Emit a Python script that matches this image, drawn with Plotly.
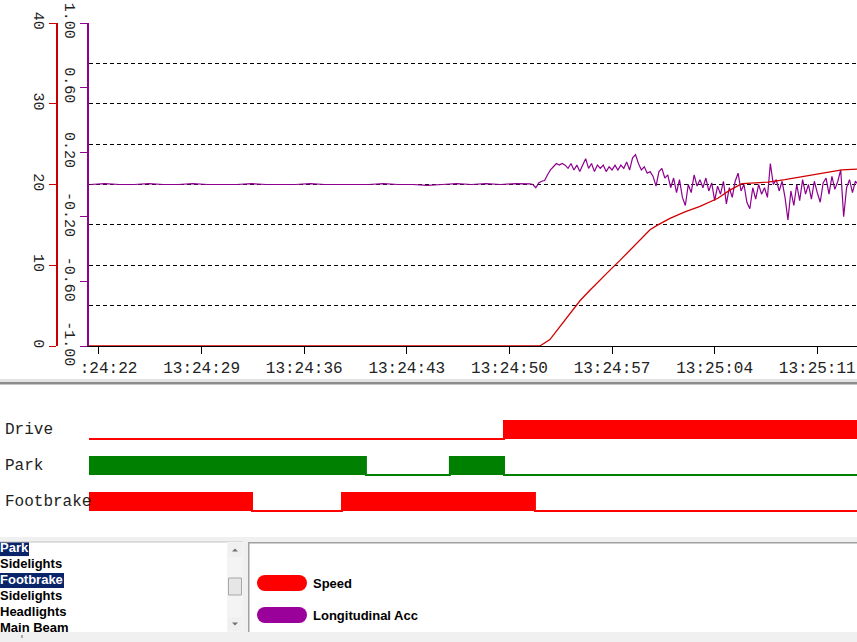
import numpy as np
import plotly.graph_objects as go

# ------------------------------------------------------------------ data
tick_seconds = [0, 7, 14, 21, 28, 35, 42, 49]          # seconds after 13:24:22
tick_labels = ["13:24:22", "13:24:29", "13:24:36", "13:24:43",
               "13:24:50", "13:24:57", "13:25:04", "13:25:11"]
time_window = [-0.68, 51.71]

speed_ticks = [0, 10, 20, 30, 40]
acc_ticks = [-1.0, -0.6, -0.2, 0.2, 0.6, 1.0]
acc_tick_labels = ["-1.00", "-0.60", "-0.20", "0.20", "0.60", "1.00"]

speed_t = [-0.68, 30.08, 30.76, 31.45, 32.13, 32.81, 33.49, 34.17, 34.86, 35.54,
           36.22, 36.90, 37.59, 38.13, 38.95, 39.97, 41.00, 42.22, 43.04, 43.86,
           44.75, 45.63, 46.79, 47.82, 49.05, 50.68, 51.71]
speed_v = [0, 0, 0.8, 2.4, 4.0, 5.6, 6.9, 8.2, 9.4, 10.6,
           11.9, 13.2, 14.4, 15.0, 15.8, 16.6, 17.3, 18.3, 19.3, 20.1,
           20.2, 20.3, 20.6, 20.9, 21.3, 21.8, 21.9]

# longitudinal acceleration, idle part logged every 1 s from t = -0.6
acc_idle_start, acc_idle_step = -0.6, 1.0
acc_idle = [0, 0.006, 0, 0, 0.005, 0, 0, 0.006, 0, 0,
            0, 0.005, 0, 0, 0, 0.006, 0, 0, 0, 0,
            0.005, 0, 0, -0.005, 0, 0.006, 0, 0.005, 0, 0.006, 0.004]
# driving part logged every 0.2 s from t = 29.6
acc_drive_start, acc_drive_step = 29.6, 0.2
acc_drive = [0.0, -0.02, 0.01, 0.02, 0.025, 0.06, 0.09, 0.11, 0.13, 0.12,
             0.13, 0.12, 0.10, 0.13, 0.09, 0.12, 0.08, 0.12, 0.16, 0.10,
             0.13, 0.08, 0.12, 0.10, 0.12, 0.08, 0.11, 0.09, 0.12, 0.09,
             0.12, 0.10, 0.14, 0.09, 0.165, 0.185, 0.13, 0.09, 0.11, 0.07,
             0.08, 0.05, -0.01, 0.08, 0.10, 0.04, 0.06, -0.02, 0.04, -0.05,
             0.03, -0.08, -0.13, 0.0, -0.05, 0.06, -0.01, 0.03, -0.02, 0.04,
             -0.04, 0.01, -0.10, -0.01, -0.06, 0.02, -0.12, -0.02, -0.08, 0.02,
             0.07, -0.04, 0.0, -0.11, -0.15, -0.02, -0.09, 0.0, -0.06, -0.02,
             -0.08, 0.13, 0.0, 0.03, -0.04, 0.02, -0.08, -0.22, -0.04, -0.13,
             0.0, -0.10, 0.03, -0.06, 0.0, -0.09, 0.02, -0.05, -0.11, 0.01,
             0.04, -0.06, 0.05, -0.03, 0.02, 0.09, -0.20, -0.02, 0.03, -0.05,
             0.02, 0.0]

signal_names = ["Drive", "Park", "Footbrake"]
drive_t = [-0.68, 27.63, 51.71]
drive_s = [0, 1, 1]
park_t = [-0.68, 18.21, 23.94, 27.63, 51.71]
park_s = [1, 0, 1, 0, 0]
foot_t = [-0.68, 10.44, 16.58, 29.74, 51.71]
foot_s = [1, 0, 1, 0, 0]

list_items = ["Park", "Sidelights", "Footbrake", "Sidelights", "Headlights", "Main Beam"]
list_selected = [True, False, True, False, False, False]

series_names = ["Speed", "Longitudinal Acc"]

# ------------------------------------------------------------------ helpers
W, H = 857, 642
def px(x):
    return x / W
def py(y):
    return 1 - y / H

RED_AX = "#C80000"
PURPLE = "#8E008E"
MONO = "Liberation Mono, Courier New, monospace"
SANS = "Liberation Sans, Arial, sans-serif"

acc_t = [acc_idle_start + i * acc_idle_step for i in range(len(acc_idle))] + \
        [acc_drive_start + i * acc_drive_step for i in range(len(acc_drive))]
acc_v = acc_idle + acc_drive

fig = go.Figure()

# ------------------------------------------------------------------ analog traces
fig.add_trace(go.Scatter(x=acc_t, y=acc_v, xaxis="x", yaxis="y", mode="lines",
                         line=dict(color=PURPLE, width=1.2), name=series_names[1],
                         showlegend=False, hoverinfo="skip"))
fig.add_trace(go.Scatter(x=speed_t, y=speed_v, xaxis="x", yaxis="y2", mode="lines",
                         line=dict(color="#D00000", width=1.3), name=series_names[0],
                         showlegend=False, hoverinfo="skip"))

# ------------------------------------------------------------------ digital traces
digital = [(drive_t, drive_s, "#FF0000"), (park_t, park_s, "#008000"), (foot_t, foot_s, "#FF0000")]
for k, (tt, ss, col) in enumerate(digital):
    base = -k
    fig.add_trace(go.Scatter(x=[tt[0], tt[-1]], y=[base, base], xaxis="x2", yaxis="y3",
                             mode="lines", line=dict(width=0, color=col),
                             showlegend=False, hoverinfo="skip"))
    fig.add_trace(go.Scatter(x=tt, y=[base + 0.5 * s for s in ss], xaxis="x2", yaxis="y3",
                             mode="lines", line=dict(shape="hv", color=col, width=2),
                             fill="tonexty", fillcolor=col, name=signal_names[k],
                             showlegend=False, hoverinfo="skip"))

# ------------------------------------------------------------------ list box text
fig.add_trace(go.Scatter(x=[0] * len(list_items), y=list(range(len(list_items))),
                         xaxis="x3", yaxis="y4", mode="text", text=list_items,
                         textposition="middle right", cliponaxis=True,
                         textfont=dict(family=SANS, size=13, weight="bold",
                                       color=["white" if s else "black" for s in list_selected]),
                         showlegend=False, hoverinfo="skip"))

disp_ticks = ["\u00a0\u00a0" + tick_labels[0][2:]] + tick_labels[1:]

fig.update_layout(
    template="none",
    width=W, height=H, autosize=False,
    margin=dict(l=0, r=0, t=0, b=0, pad=0, autoexpand=False),
    paper_bgcolor="white", plot_bgcolor="white",
    showlegend=False,
    xaxis=dict(domain=[px(89), 1], range=time_window, anchor="y", automargin=False,
               tickmode="array", tickvals=tick_seconds, ticktext=disp_ticks,
               ticks="outside", ticklen=7, tickcolor="black", tickwidth=1,
               showline=True, linecolor="black", linewidth=1,
               showgrid=False, zeroline=False,
               tickfont=dict(family=MONO, size=16, color="#222")),
    yaxis=dict(domain=[py(346), py(23)], range=[-1, 1], anchor="x", automargin=False,
               tickmode="array", tickvals=acc_ticks, ticktext=acc_tick_labels,
               tickangle=90, ticks="outside", ticklen=7, tickcolor=PURPLE,
               ticklabelstandoff=-3,
               showline=True, linecolor=PURPLE, linewidth=1.5,
               showgrid=False, zeroline=False,
               tickfont=dict(family=MONO, size=15, color="#222")),
    yaxis2=dict(overlaying="y", anchor="free", position=px(57), side="left",
                automargin=False,
                range=[0, 40], tickmode="array", tickvals=speed_ticks,
                tickangle=90, ticks="outside", ticklen=7, tickcolor=RED_AX,
                ticklabelstandoff=-3,
                showline=True, linecolor=RED_AX, linewidth=1.5,
                showgrid=True, gridcolor="black", griddash="4px,3px", gridwidth=1,
                minor=dict(dtick=5, tick0=0, showgrid=True, gridcolor="black",
                           griddash="4px,3px", gridwidth=1, ticks=""),
                zeroline=False,
                tickfont=dict(family=MONO, size=15, color="#222")),
    xaxis2=dict(domain=[px(89), 1], range=time_window, anchor="y3", matches="x",
                visible=False, automargin=False),
    yaxis3=dict(domain=[py(537), py(384)], range=[-2.72, 1.53], anchor="x2",
                visible=False, automargin=False),
    xaxis3=dict(domain=[0, px(227)], range=[0, 1], anchor="y4", visible=False,
                automargin=False),
    yaxis4=dict(domain=[py(632), py(542)], range=[5.22, -0.41], anchor="x3",
                visible=False, automargin=False),
)

# ------------------------------------------------------------------ window chrome
shapes = []
def rect(x0, y0, x1, y1, fill, line=None, layer="above"):
    shapes.append(dict(type="rect", xref="paper", yref="paper",
                       x0=px(x0), x1=px(x1), y0=py(y1), y1=py(y0),
                       fillcolor=fill, line=dict(width=1 if line else 0, color=line or fill),
                       layer=layer))

# splitter between analog and digital panes
rect(0, 379, W, 382, "#e2e2e2")
rect(0, 382, W, 384.5, "#8c8c8c")
# band under digital pane
rect(0, 537, W, 542, "#f0f0f0")
# gap between list and legend panel
rect(243, 537, 248, 642, "#f0f0f0")
# list box top border
rect(0, 541.5, 243, 542.5, "#c4c4c4")
# scrollbar
rect(227, 542, 243, 632, "#f4f4f4")
rect(228, 543, 242, 557, "#f0f0f0")
rect(228, 617, 242, 631, "#f0f0f0")
rect(228.5, 578, 241.5, 595, "#e6e6e6", line="#a8a8a8")
for cy, d in [(550, -1), (624, 1)]:
    x0, y0 = px(232), py(cy - 1.5 * d)
    x1, y1 = px(238), py(cy - 1.5 * d)
    xm, ym = px(235), py(cy + 1.5 * d)
    shapes.append(dict(type="path", xref="paper", yref="paper",
                       path=f"M {x0} {y0} L {x1} {y1} L {xm} {ym} Z",
                       fillcolor="#707070", line=dict(width=0), layer="above"))
# legend panel borders
rect(248, 542, 249.5, 632, "#a0a0a0")
rect(248, 542, W, 543.5, "#a0a0a0")
# status bar
rect(0, 632, W, 642, "#f0f0f0")
rect(21.5, 635, 22.5, 638, "#606060")

# highlighted list entries
sel_width = {"Park": 29, "Footbrake": 64}
for i, (name, sel) in enumerate(zip(list_items, list_selected)):
    if sel:
        shapes.append(dict(type="rect", xref="paper", yref="y4",
                           x0=0, x1=px(sel_width[name]), y0=i - 0.47, y1=i + 0.47,
                           fillcolor="#0A246A", line=dict(width=0), layer="below"))

# legend pills
pill_cols = ["#FF0000", "#9A009A"]
for i, col in enumerate(pill_cols):
    cy = 583 + 32 * i
    rect(265, cy - 8, 299, cy + 8, col)
    for cx in (265, 299):
        shapes.append(dict(type="circle", xref="paper", yref="paper",
                           x0=px(cx - 8), x1=px(cx + 8), y0=py(cy + 8), y1=py(cy - 8),
                           fillcolor=col, line=dict(width=0), layer="above"))

fig.update_layout(shapes=shapes)

annotations = []
for k, name in enumerate(signal_names):
    annotations.append(dict(xref="paper", yref="y3", x=px(3), y=-k + 0.25, text=name,
                            xanchor="left", yanchor="middle", showarrow=False,
                            font=dict(family=MONO, size=16, color="#222")))
for i, name in enumerate(series_names):
    annotations.append(dict(xref="paper", yref="paper", x=px(311), y=py(583 + 32 * i),
                            text=name, xanchor="left", yanchor="middle", showarrow=False,
                            font=dict(family=SANS, size=13, weight="bold", color="black")))
fig.update_layout(annotations=annotations)

fig.write_html("out.html",
               config={"displayModeBar": False},
               post_script="document.body.style.margin='0';document.body.style.overflow='hidden';")
